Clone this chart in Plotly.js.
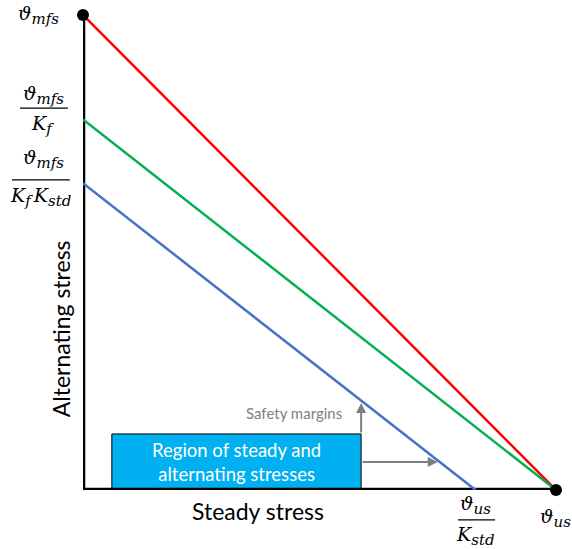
<!DOCTYPE html>
<html><head><meta charset="utf-8">
<script src="https://cdn.plot.ly/plotly-3.0.1.min.js"></script>
<style>body{margin:0;background:#fff}#c{width:572px;height:549px}</style>
</head><body><div id="c"></div>
<script>
// Data (normalised units: ultimate stress = 100, mean fatigue stress = 100)
const lineLabels = ['ϑ_mfs', 'ϑ_mfs / K_f', 'ϑ_mfs / (K_f K_std)'];
const yIntercepts = [100, 78, 64.6];      // alternating stress at zero steady stress
const xIntercepts = [100, 100, 83];       // steady stress at zero alternating stress
const lineColors = ['#FF0000', '#00B050', '#4472C4'];
const axisMax = 100;
const regionBox = {x0: 6.1, x1: 58.8, y0: 0, y1: 11.8};
const marginArrowTipY = 18.3;
const marginArrowTipX = 75;

const mathFont = {family: 'DejaVu Serif', size: 19, color: '#000'};
const textFont = 'Lato, "Open Sans", sans-serif';

const traces = [];
// axes
traces.push({x: [0, 0, axisMax], y: [axisMax, 0, 0], mode: 'lines', line: {color: '#000', width: 4.5}, hoverinfo: 'skip', cliponaxis: false});
for (let i = 0; i < yIntercepts.length; i++) {
  traces.push({x: [0, xIntercepts[i]], y: [yIntercepts[i], 0], mode: 'lines', line: {color: lineColors[i], width: 2.5}, cliponaxis: false, name: lineLabels[i]});
}
traces.push({x: [0, axisMax], y: [axisMax, 0], mode: 'markers', marker: {color: '#000', size: 12}, cliponaxis: false});

const ann = [];
const it = s => '<i>' + s + '</i>';
const sb = s => '<sub><span style="font-size:15px">' + it(s) + '</span></sub>';
const mfs = it('ϑ') + sb('mfs');
// y labels
ann.push({xref: 'paper', yref: 'y', x: -0.094, y: yIntercepts[0], text: mfs, showarrow: false, font: mathFont, xanchor: 'center', yanchor: 'middle'});
ann.push({xref: 'paper', yref: 'y', x: -0.083, y: yIntercepts[1], yshift: 25, text: mfs, showarrow: false, font: mathFont, xanchor: 'center', yanchor: 'middle'});
ann.push({xref: 'paper', yref: 'y', x: -0.085, y: yIntercepts[1], yshift: -5, text: it('K') + sb('f'), showarrow: false, font: mathFont, xanchor: 'center', yanchor: 'middle'});
ann.push({xref: 'paper', yref: 'y', x: -0.083, y: yIntercepts[2], yshift: 24, text: mfs, showarrow: false, font: mathFont, xanchor: 'center', yanchor: 'middle'});
ann.push({xref: 'paper', yref: 'y', x: -0.090, y: yIntercepts[2], yshift: -14, text: it('K') + sb('f\u2009') + it('K') + sb('std'), showarrow: false, font: mathFont, xanchor: 'center', yanchor: 'middle'});
// x labels
const us = it('ϑ') + sb('us');
ann.push({xref: 'x', yref: 'paper', x: xIntercepts[2], y: -0.032, text: us, showarrow: false, font: mathFont, xanchor: 'center', yanchor: 'middle'});
ann.push({xref: 'x', yref: 'paper', x: xIntercepts[2], y: -0.097, text: it('K') + sb('std'), showarrow: false, font: mathFont, xanchor: 'center', yanchor: 'middle'});
ann.push({xref: 'x', yref: 'paper', x: axisMax, y: -0.058, xshift: -1, text: us, showarrow: false, font: mathFont, xanchor: 'center', yanchor: 'middle'});
// axis titles
ann.push({xref: 'paper', yref: 'paper', x: -0.045, y: 0.34, text: 'Alternating stress', textangle: -90, showarrow: false, font: {family: textFont, size: 23, color: '#000'}, xanchor: 'center', yanchor: 'middle'});
ann.push({xref: 'paper', yref: 'paper', x: 0.37, y: -0.045, text: 'Steady stress', showarrow: false, font: {family: textFont, size: 23, color: '#000'}, xanchor: 'center', yanchor: 'middle'});
// region box text
ann.push({xref: 'x', yref: 'y', x: (regionBox.x0 + regionBox.x1) / 2, y: (regionBox.y0 + regionBox.y1) / 2, text: 'Region of steady and<br>alternating stresses', showarrow: false, font: {family: textFont, size: 18.5, color: '#fff'}, xanchor: 'center', yanchor: 'middle'});
// arrows
ann.push({xref: 'x', yref: 'y', axref: 'x', ayref: 'y', x: regionBox.x1, y: marginArrowTipY, ax: regionBox.x1, ay: regionBox.y1, text: '', showarrow: true, arrowhead: 2, arrowsize: 1, arrowwidth: 2, arrowcolor: '#7F7F7F'});
ann.push({xref: 'x', yref: 'y', axref: 'x', ayref: 'y', x: marginArrowTipX, y: regionBox.y1 / 2, ax: regionBox.x1, ay: regionBox.y1 / 2, text: '', showarrow: true, arrowhead: 2, arrowsize: 1, arrowwidth: 2, arrowcolor: '#7F7F7F'});
ann.push({xref: 'x', yref: 'y', x: regionBox.x1 - 3.6, y: 16.3, text: 'Safety margins', showarrow: false, font: {family: textFont, size: 15, color: '#7F7F7F'}, xanchor: 'right', yanchor: 'middle'});

const shapes = [
  {type: 'rect', xref: 'x', yref: 'y', x0: regionBox.x0, x1: regionBox.x1, y0: regionBox.y0, y1: regionBox.y1, fillcolor: '#00B0F0', line: {color: '#000', width: 1}, layer: 'below'},
  {type: 'line', xref: 'paper', yref: 'paper', x0: -0.133, x1: -0.032, y0: 0.804, y1: 0.804, line: {color: '#000', width: 1.2}},
  {type: 'line', xref: 'paper', yref: 'paper', x0: -0.150, x1: -0.028, y0: 0.653, y1: 0.653, line: {color: '#000', width: 1.2}},
  {type: 'line', xref: 'paper', yref: 'paper', x0: 0.793, x1: 0.871, y0: -0.063, y1: -0.063, line: {color: '#000', width: 1.2}}
];

const layout = {
  width: 572, height: 549,
  margin: {l: 83, r: 16, t: 15, b: 59},
  paper_bgcolor: '#fff', plot_bgcolor: '#fff',
  showlegend: false,
  xaxis: {range: [0, axisMax], visible: false, fixedrange: true},
  yaxis: {range: [0, axisMax], visible: false, fixedrange: true},
  annotations: ann, shapes: shapes
};
Plotly.newPlot('c', traces, layout, {displayModeBar: false, staticPlot: true});
</script></body></html>
